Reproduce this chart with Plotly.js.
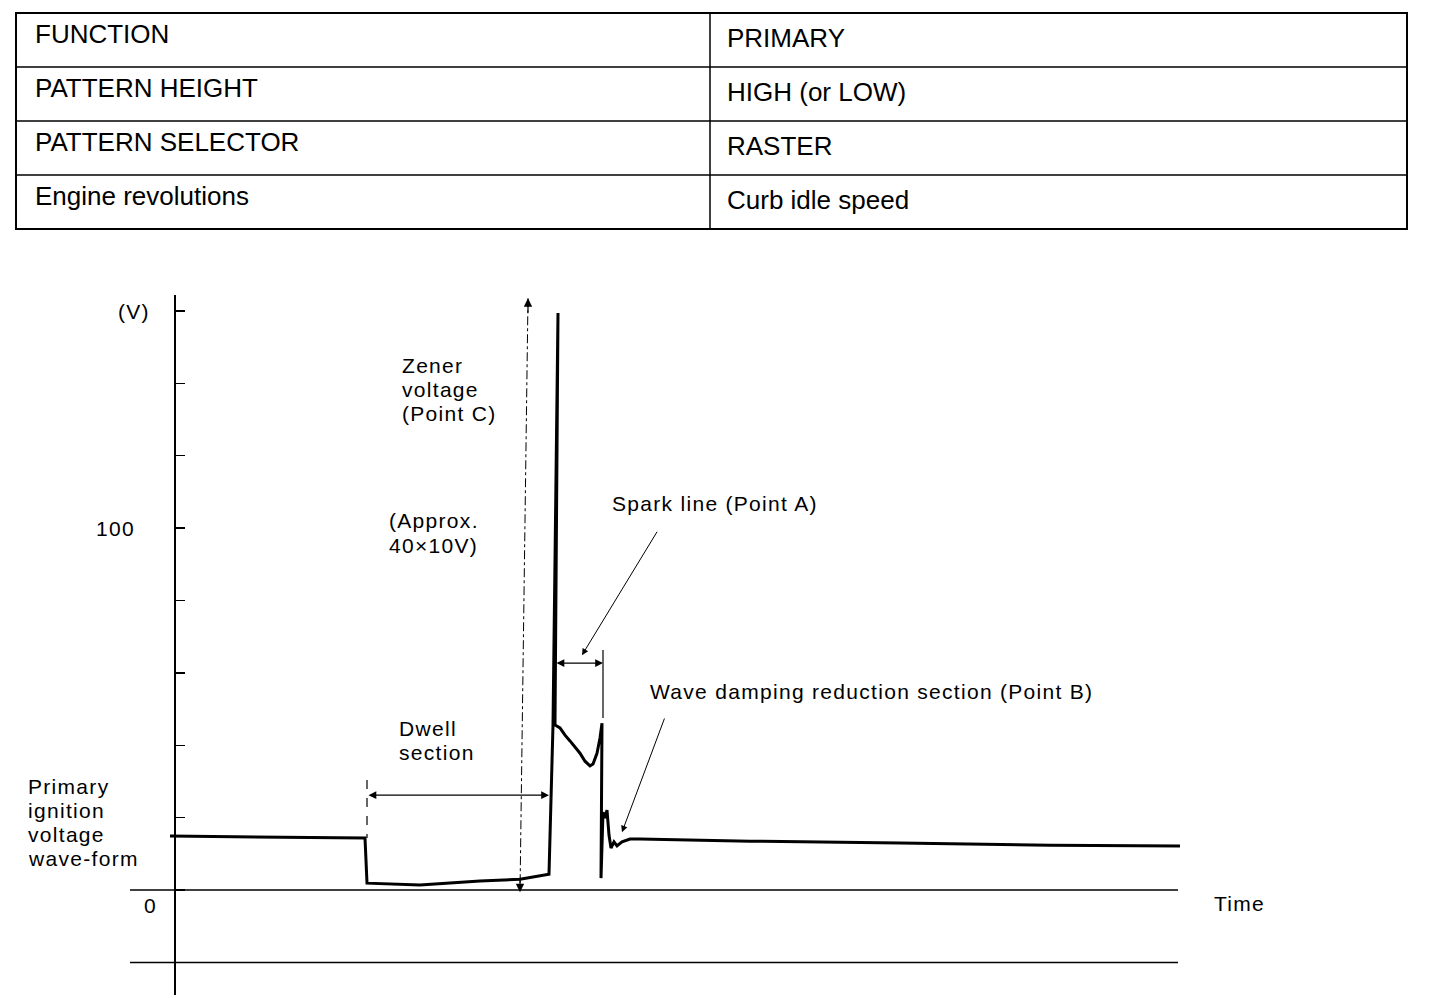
<!DOCTYPE html>
<html>
<head>
<meta charset="utf-8">
<script src="https://cdn.plot.ly/plotly-3.0.1.min.js"></script>
<style>html,body{margin:0;padding:0;background:#fff;}#chart{width:1456px;height:998px;}</style>
</head>
<body>
<div id="chart"></div>
<script>
// ---------- DATA ----------
const tableParams = ["FUNCTION", "PATTERN HEIGHT", "PATTERN SELECTOR", "Engine revolutions"];
const tableSettings = ["PRIMARY", "HIGH (or LOW)", "RASTER", "Curb idle speed"];

// Primary ignition voltage wave-form (time in arbitrary units, voltage in V)
const timeUnits = [0, 19.5, 19.7, 25, 31, 35, 37.9, 38.3, 38.8, 38.5, 39, 39.5, 40, 40.5, 41, 41.5, 42, 42.3, 42.7, 43, 43.2, 43.1, 43.3, 43.5, 43.7, 43.9, 44.1, 44.4, 44.7, 45.2, 46, 47, 58, 73, 88, 101];
const voltage   = [14.9, 14.4, 1.9, 1.4, 2.5, 3.0, 4.4, 45.6, 159.4, 45.6, 44.8, 42.8, 41.2, 39.5, 37.8, 35.6, 34.3, 34.8, 37.8, 42.0, 46.1, 3.3, 21.5, 19.9, 22.1, 15.2, 11.6, 13.3, 12.2, 13.3, 14.1, 14.1, 13.5, 13.0, 12.4, 12.2];

const yTickValues = [0, 20, 40, 60, 80, 100, 120, 140, 160];
const referenceLevels = [0, -20];

// Key points on the wave-form (time, voltage)
const dwellStart = [19.7, 26.2];     // dwell section arrow start
const dwellEnd   = [37.9, 26.2];
const sparkStart = [38.5, 62.7];     // spark line (Point A)
const sparkEnd   = [43.3, 62.7];
const zenerTop   = [35.8, 163.5];    // zener voltage (Point C)
const zenerBottom= [35.0, -0.6];
const sparkPointerTail = [48.8, 99.4], sparkPointerTip = [41.2, 64.9];
const dampPointerTail  = [49.5, 47.8], dampPointerTip  = [45.2, 16.0];

// ---------- LAYOUT HELPERS ----------
const W = 1456, H = 998;
const px = x => x / W;
const py = y => 1 - y / H;
const FONT = "Liberation Sans, Arial, Helvetica, sans-serif";

const shapes = [];
const annotations = [];

// Table
const tL = 16, tR = 1407, tMid = 710, tTop = 13, rowH = 54;
shapes.push({type: "rect", xref: "paper", yref: "paper", x0: px(tL), x1: px(tR), y0: py(tTop), y1: py(tTop + rowH * tableParams.length), line: {color: "#000", width: 2}});
shapes.push({type: "line", xref: "paper", yref: "paper", x0: px(tMid), x1: px(tMid), y0: py(tTop), y1: py(tTop + rowH * tableParams.length), line: {color: "#000", width: 1.5}});
for (let i = 1; i < tableParams.length; i++) {
  shapes.push({type: "line", xref: "paper", yref: "paper", x0: px(tL), x1: px(tR), y0: py(tTop + rowH * i), y1: py(tTop + rowH * i), line: {color: "#000", width: 1.5}});
}
const tableFont = {family: FONT, size: 26, color: "#000"};
tableParams.forEach((t, i) => {
  annotations.push({xref: "paper", yref: "paper", x: px(33), y: py(tTop + rowH * i + 21), text: t, showarrow: false, xanchor: "left", yanchor: "middle", font: tableFont});
});
tableSettings.forEach((t, i) => {
  annotations.push({xref: "paper", yref: "paper", x: px(725), y: py(tTop + rowH * i + 25), text: t, showarrow: false, xanchor: "left", yanchor: "middle", font: tableFont});
});

// Reference lines at 0 V and -20 V
referenceLevels.forEach(v => {
  shapes.push({type: "line", xref: "x", yref: "y", x0: -4, x1: 100.8, y0: v, y1: v, line: {color: "#000", width: 1.6}});
});

// Dwell start marker (dashed) and spark end marker
shapes.push({type: "line", xref: "x", yref: "y", x0: dwellStart[0], x1: dwellStart[0], y0: 30.4, y1: 14.4, line: {color: "#000", width: 1.2, dash: "dash"}});
shapes.push({type: "line", xref: "x", yref: "y", x0: sparkEnd[0], x1: sparkEnd[0], y0: 66.3, y1: 47.5, line: {color: "#000", width: 1.2}});
// Zener voltage measuring line
shapes.push({type: "line", xref: "x", yref: "y", x0: zenerTop[0], x1: zenerBottom[0], y0: zenerTop[1], y1: zenerBottom[1], line: {color: "#000", width: 1, dash: "dashdot"}});

const chartFont = {family: FONT, size: 21, color: "#000"};
function label(text, x, y) {
  annotations.push({xref: "paper", yref: "paper", x: px(x), y: py(y), text: '<span style="letter-spacing:1.3px">' + text + '</span>', showarrow: false, xanchor: "left", yanchor: "middle", font: chartFont});
}
label("(V)", 116, 311);
label("100", 94, 528);
label("0", 142, 905);
label("Zener", 400, 365);
label("voltage", 400, 389);
label("(Point C)", 400, 413);
label("(Approx.", 387, 520);
label("40×10V)", 387, 545);
label("Dwell", 397, 728);
label("section", 397, 752);
label("Spark line (Point A)", 610, 503);
label("Wave damping reduction section (Point B)", 648, 691);
label("Time", 1212, 903);
label("Primary", 26, 786);
label("ignition", 26, 810);
label("voltage", 26, 834);
label("wave-form", 26, 858);

// Arrows
function arrow(tip, tail, opts) {
  annotations.push(Object.assign({xref: "x", yref: "y", axref: "x", ayref: "y", x: tip[0], y: tip[1], ax: tail[0], ay: tail[1], text: "", showarrow: true, arrowhead: 2, arrowsize: 1.3, arrowwidth: 1.2, arrowcolor: "#000", standoff: 0, startstandoff: 0}, opts || {}));
}
arrow(dwellEnd, dwellStart, {arrowside: "end+start", startarrowhead: 2, startarrowsize: 1.3});
arrow(sparkEnd, sparkStart, {arrowside: "end+start", startarrowhead: 2, startarrowsize: 1.3});
arrow(sparkPointerTip, sparkPointerTail, {arrowwidth: 1});
arrow(dampPointerTip, dampPointerTail, {arrowwidth: 1});
// Zener arrow heads
annotations.push({xref: "x", yref: "y", x: zenerTop[0], y: zenerTop[1], ax: 0, ay: 16, text: "", showarrow: true, arrowhead: 2, arrowsize: 1.4, arrowwidth: 1.2, arrowcolor: "#000", standoff: 0});
annotations.push({xref: "x", yref: "y", x: zenerBottom[0], y: zenerBottom[1], ax: 0, ay: -16, text: "", showarrow: true, arrowhead: 2, arrowsize: 1.4, arrowwidth: 1.2, arrowcolor: "#000", standoff: 0});

const traces = [{
  type: "scatter", mode: "lines", x: timeUnits, y: voltage,
  line: {color: "#000", width: 3}, hoverinfo: "skip", cliponaxis: false
}];

const layout = {
  width: W, height: H, autosize: false,
  margin: {l: 0, r: 0, t: 0, b: 0, pad: 0},
  paper_bgcolor: "#fff", plot_bgcolor: "#fff",
  showlegend: false,
  xaxis: {range: [-17, 128.6], visible: false, domain: [0, 1], fixedrange: true},
  yaxis: {
    range: [-29.0, 164.4], domain: [1 - 995 / H, 1 - 295 / H],
    anchor: "free", position: px(175),
    showline: true, linecolor: "#000", linewidth: 2,
    ticks: "inside", ticklen: 9, tickwidth: 1.5, tickcolor: "#000",
    tickvals: yTickValues, showticklabels: false,
    showgrid: false, zeroline: false, fixedrange: true
  },
  shapes: shapes,
  annotations: annotations
};

Plotly.newPlot("chart", traces, layout, {displayModeBar: false, staticPlot: true});
</script>
</body>
</html>
